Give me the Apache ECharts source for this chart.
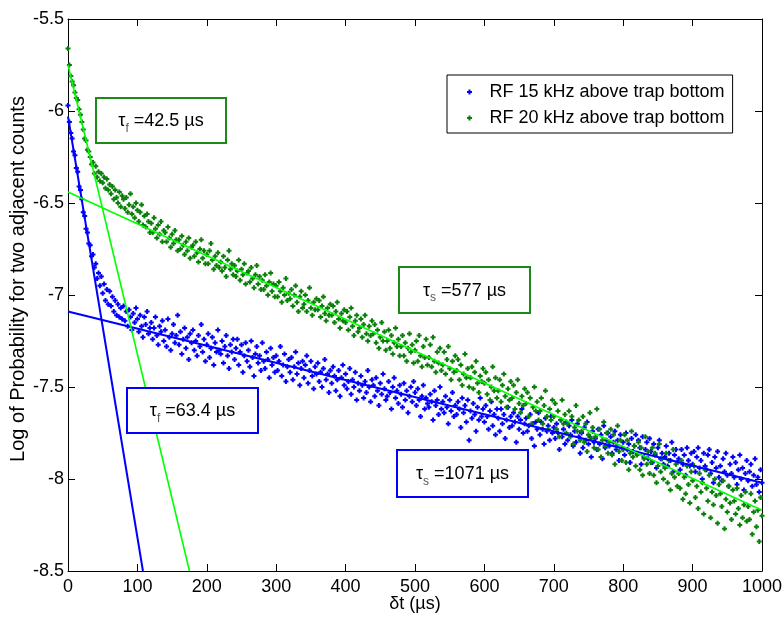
<!DOCTYPE html>
<html>
<head>
<meta charset="utf-8">
<script src="https://cdn.jsdelivr.net/npm/echarts@6/dist/echarts.min.js"></script>
<style>html,body{margin:0;padding:0;background:#fff;}#chart{width:783px;height:617px;}</style>
</head>
<body>
<div id="chart"></div>
<script>
// bin width of δt (µs); point i sits at t = i * binWidth
const binWidth = 2;
const xTicks = [0, 100, 200, 300, 400, 500, 600, 700, 800, 900, 1000];
const yTicks = [-8.5, -8, -7.5, -7, -6.5, -6, -5.5];
const seriesNames = ['RF 15 kHz above trap bottom', 'RF 20 kHz above trap bottom'];

// log probability, RF 15 kHz (blue), one value per 2 µs bin from 0 to 1000 µs
const blueY = [
-5.97,-6.06,-6.12,-6.15,-6.22,-6.24,-6.31,-6.33,-6.41,-6.43,
-6.48,-6.55,-6.57,-6.64,-6.66,-6.72,-6.73,-6.79,-6.78,-6.85,
-6.83,-6.91,-6.88,-6.95,-6.90,-6.99,-6.94,-7.03,-6.97,-7.05,
-6.98,-7.06,-7.01,-7.09,-7.03,-7.11,-7.05,-7.12,-7.07,-7.13,
-7.06,-7.14,-7.09,-7.17,-7.08,-7.12,-7.19,-7.10,-7.15,-7.07,
-7.13,-7.20,-7.11,-7.17,-7.23,-7.12,-7.16,-7.09,-7.21,-7.18,
-7.15,-7.24,-7.18,-7.12,-7.22,-7.27,-7.17,-7.20,-7.14,-7.25,
-7.19,-7.28,-7.13,-7.23,-7.30,-7.21,-7.16,-7.26,-7.22,-7.11,
-7.27,-7.20,-7.32,-7.24,-7.18,-7.29,-7.23,-7.35,-7.21,-7.26,
-7.19,-7.30,-7.25,-7.33,-7.22,-7.28,-7.16,-7.31,-7.24,-7.36,
-7.27,-7.21,-7.34,-7.29,-7.23,-7.38,-7.26,-7.31,-7.19,-7.30,
-7.32,-7.25,-7.37,-7.28,-7.22,-7.33,-7.40,-7.27,-7.31,-7.24,
-7.35,-7.29,-7.24,-7.38,-7.31,-7.27,-7.42,-7.33,-7.26,-7.36,
-7.30,-7.39,-7.25,-7.34,-7.44,-7.32,-7.28,-7.37,-7.33,-7.41,
-7.26,-7.36,-7.40,-7.31,-7.35,-7.45,-7.29,-7.38,-7.34,-7.42,
-7.33,-7.41,-7.36,-7.28,-7.44,-7.38,-7.32,-7.47,-7.39,-7.35,
-7.42,-7.34,-7.46,-7.39,-7.31,-7.43,-7.37,-7.49,-7.40,-7.36,
-7.45,-7.38,-7.33,-7.48,-7.41,-7.36,-7.44,-7.51,-7.39,-7.43,
-7.37,-7.47,-7.42,-7.50,-7.40,-7.35,-7.46,-7.43,-7.53,-7.41,
-7.48,-7.39,-7.44,-7.52,-7.46,-7.41,-7.55,-7.45,-7.38,-7.49,
-7.43,-7.51,-7.47,-7.40,-7.54,-7.46,-7.50,-7.42,-7.57,-7.48,
-7.52,-7.44,-7.49,-7.56,-7.47,-7.53,-7.41,-7.50,-7.58,-7.46,
-7.49,-7.55,-7.45,-7.52,-7.60,-7.48,-7.54,-7.43,-7.51,-7.57,
-7.55,-7.47,-7.53,-7.62,-7.50,-7.45,-7.56,-7.52,-7.59,-7.49,
-7.54,-7.61,-7.48,-7.57,-7.52,-7.64,-7.55,-7.50,-7.58,-7.47,
-7.53,-7.60,-7.51,-7.57,-7.66,-7.55,-7.49,-7.62,-7.56,-7.59,
-7.61,-7.54,-7.58,-7.68,-7.52,-7.60,-7.57,-7.65,-7.50,-7.62,
-7.58,-7.64,-7.55,-7.61,-7.70,-7.57,-7.63,-7.53,-7.66,-7.60,
-7.65,-7.58,-7.62,-7.72,-7.56,-7.64,-7.60,-7.69,-7.57,-7.79,
-7.63,-7.67,-7.59,-7.65,-7.74,-7.61,-7.68,-7.56,-7.66,-7.62,
-7.69,-7.60,-7.66,-7.73,-7.63,-7.58,-7.71,-7.65,-7.76,-7.62,
-7.67,-7.74,-7.62,-7.70,-7.65,-7.78,-7.68,-7.61,-7.72,-7.66,
-7.71,-7.64,-7.69,-7.80,-7.66,-7.73,-7.68,-7.62,-7.75,-7.70,
-7.67,-7.74,-7.71,-7.65,-7.78,-7.70,-7.82,-7.69,-7.73,-7.64,
-7.76,-7.69,-7.73,-7.81,-7.67,-7.74,-7.71,-7.79,-7.66,-7.75,
-7.72,-7.78,-7.70,-7.75,-7.84,-7.68,-7.77,-7.73,-7.81,-7.69,
-7.79,-7.71,-7.76,-7.68,-7.82,-7.74,-7.80,-7.70,-7.77,-7.86,
-7.75,-7.83,-7.72,-7.79,-7.69,-7.81,-7.77,-7.88,-7.74,-7.80,
-7.78,-7.84,-7.73,-7.81,-7.76,-7.89,-7.71,-7.83,-7.79,-7.75,
-7.82,-7.77,-7.86,-7.80,-7.74,-7.84,-7.79,-7.90,-7.76,-7.83,
-7.80,-7.87,-7.75,-7.84,-7.81,-7.91,-7.78,-7.85,-7.82,-7.76,
-7.86,-7.79,-7.83,-7.92,-7.77,-7.88,-7.84,-7.80,-7.89,-7.78,
-7.85,-7.91,-7.81,-7.87,-7.94,-7.83,-7.79,-7.89,-7.86,-7.92,
-7.88,-7.82,-7.93,-7.86,-7.90,-7.80,-7.96,-7.87,-7.84,-7.91,
-7.89,-7.95,-7.84,-7.92,-7.87,-7.98,-7.83,-7.90,-7.93,-7.86,
-7.92,-7.85,-7.96,-7.88,-7.83,-7.94,-7.90,-8.00,-7.86,-7.93,
-7.95,-7.87,-7.84,-7.97,-7.91,-8.02,-7.88,-7.94,-7.85,-7.99,
-7.93,-8.01,-7.89,-7.96,-7.86,-7.98,-8.04,-7.92,-7.97,-7.88,
-7.99,-7.91,-8.03,-7.95,-7.87,-8.00,-7.94,-8.06,-7.97,-7.90,
-8.01,-7.96,-7.92,-8.04,-7.98,-7.89,-8.03,-7.99,-8.07,-7.95,
-8.02
];

// log probability, RF 20 kHz (green), one value per 2 µs bin from 0 to 1000 µs
const greenY = [
-5.66,-5.75,-5.81,-5.84,-5.86,-5.90,-5.93,-5.94,-5.99,-6.02,
-6.06,-6.10,-6.15,-6.16,-6.21,-6.22,-6.25,-6.29,-6.28,-6.34,
-6.30,-6.36,-6.33,-6.38,-6.34,-6.39,-6.36,-6.42,-6.37,-6.43,
-6.40,-6.45,-6.41,-6.48,-6.43,-6.47,-6.50,-6.44,-6.52,-6.46,
-6.48,-6.53,-6.47,-6.55,-6.51,-6.45,-6.56,-6.52,-6.58,-6.50,
-6.54,-6.60,-6.55,-6.51,-6.62,-6.57,-6.63,-6.56,-6.60,-6.66,
-6.61,-6.66,-6.58,-6.64,-6.69,-6.62,-6.67,-6.60,-6.71,-6.65,
-6.66,-6.71,-6.63,-6.69,-6.74,-6.67,-6.72,-6.65,-6.70,-6.76,
-6.70,-6.75,-6.68,-6.73,-6.78,-6.71,-6.76,-6.69,-6.80,-6.74,
-6.73,-6.79,-6.71,-6.77,-6.82,-6.75,-6.70,-6.80,-6.76,-6.83,
-6.78,-6.83,-6.76,-6.72,-6.81,-6.86,-6.79,-6.84,-6.77,-6.85,
-6.82,-6.87,-6.79,-6.85,-6.90,-6.81,-6.76,-6.86,-6.83,-6.89,
-6.84,-6.90,-6.87,-6.81,-6.92,-6.86,-6.89,-6.83,-6.94,-6.88,
-6.87,-6.93,-6.85,-6.91,-6.96,-6.89,-6.84,-6.94,-6.90,-6.97,
-6.92,-6.97,-6.89,-6.95,-7.00,-6.93,-6.88,-6.98,-6.94,-7.01,
-6.95,-7.01,-6.93,-6.98,-7.04,-6.96,-7.00,-6.91,-7.03,-6.99,
-7.02,-6.97,-7.06,-7.00,-6.95,-7.04,-7.09,-7.01,-6.98,-7.07,
-7.05,-7.00,-7.09,-7.03,-6.96,-7.07,-7.11,-7.04,-7.08,-7.02,
-7.08,-7.03,-7.12,-7.06,-7.01,-7.10,-7.14,-7.07,-7.11,-7.05,
-7.11,-7.06,-7.15,-7.09,-7.04,-7.13,-7.18,-7.10,-7.14,-7.08,
-7.15,-7.09,-7.19,-7.12,-7.07,-7.17,-7.22,-7.14,-7.11,-7.20,
-7.18,-7.13,-7.23,-7.16,-7.11,-7.21,-7.25,-7.17,-7.22,-7.14,
-7.21,-7.16,-7.26,-7.19,-7.29,-7.23,-7.15,-7.25,-7.20,-7.30,
-7.25,-7.19,-7.29,-7.22,-7.32,-7.26,-7.18,-7.28,-7.24,-7.33,
-7.28,-7.22,-7.33,-7.26,-7.36,-7.29,-7.21,-7.31,-7.27,-7.37,
-7.30,-7.25,-7.36,-7.22,-7.33,-7.39,-7.28,-7.34,-7.24,-7.38,
-7.34,-7.27,-7.39,-7.23,-7.36,-7.42,-7.31,-7.37,-7.29,-7.41,
-7.38,-7.31,-7.43,-7.35,-7.28,-7.40,-7.46,-7.36,-7.42,-7.33,
-7.41,-7.35,-7.46,-7.38,-7.49,-7.43,-7.32,-7.45,-7.40,-7.50,
-7.45,-7.39,-7.51,-7.42,-7.36,-7.48,-7.53,-7.44,-7.47,-7.40,
-7.48,-7.42,-7.54,-7.46,-7.57,-7.50,-7.39,-7.52,-7.45,-7.56,
-7.52,-7.46,-7.58,-7.49,-7.43,-7.55,-7.61,-7.51,-7.57,-7.47,
-7.56,-7.49,-7.62,-7.53,-7.46,-7.59,-7.64,-7.55,-7.60,-7.51,
-7.59,-7.53,-7.66,-7.56,-7.70,-7.61,-7.50,-7.63,-7.58,-7.68,
-7.63,-7.56,-7.70,-7.60,-7.52,-7.66,-7.73,-7.62,-7.68,-7.57,
-7.66,-7.59,-7.73,-7.63,-7.77,-7.68,-7.57,-7.70,-7.65,-7.75,
-7.70,-7.63,-7.77,-7.66,-7.81,-7.72,-7.60,-7.74,-7.68,-7.79,
-7.74,-7.66,-7.80,-7.70,-7.85,-7.76,-7.64,-7.78,-7.72,-7.83,
-7.77,-7.62,-7.84,-7.73,-7.88,-7.79,-7.69,-7.82,-7.75,-7.86,
-7.80,-7.73,-7.87,-7.76,-7.92,-7.82,-7.71,-7.85,-7.79,-7.90,
-7.84,-7.76,-7.91,-7.79,-7.95,-7.86,-7.74,-7.88,-7.82,-7.93,
-7.87,-7.80,-7.95,-7.83,-7.98,-7.89,-7.77,-7.92,-7.85,-7.97,
-7.91,-7.83,-7.98,-7.86,-8.02,-7.93,-7.81,-7.96,-7.89,-8.00,
-7.94,-7.86,-8.02,-7.90,-8.06,-7.97,-7.84,-7.99,-7.92,-8.04,
-7.97,-8.05,-7.90,-8.11,-7.99,-8.08,-7.93,-8.03,-8.13,-7.96,
-8.01,-7.93,-8.10,-8.04,-8.16,-7.97,-8.07,-8.02,-8.19,-7.95,
-8.05,-8.12,-7.98,-8.21,-8.07,-8.14,-8.00,-8.09,-8.24,-8.03,
-8.08,-8.15,-8.01,-8.27,-8.11,-8.18,-8.04,-8.13,-8.22,-8.06,
-8.12,-8.19,-8.05,-8.16,-8.25,-8.09,-8.21,-8.14,-8.07,-8.23,
-8.15,-8.22,-8.08,-8.30,-8.18,-8.12,-8.26,-8.17,-8.34,-8.10,
-8.20
];

// fitted straight lines (endpoints in data units: [δt, log P])
const blueFastFit = [[0, -6.03], [108, -8.5]];
const blueSlowFit = [[0, -7.09], [1000, -8.02]];
const greenFastFit = [[0, -5.75], [175, -8.5]];
const greenSlowFit = [[0, -6.44], [1000, -8.17]];

// annotation labels
const labels = [
  {sub: 'f', text: ' =42.5 µs', color: '#1a8a1a'},
  {sub: 's', text: ' =577 µs', color: '#1a8a1a'},
  {sub: 'f', text: ' =63.4 µs', color: '#0000ff'},
  {sub: 's', text: ' =1071 µs', color: '#0000ff'}
];
</script>
<script>
const FONT = '"Liberation Sans", Arial, Helvetica, sans-serif';
const plus = 'path://M1.5,0H3.5V1.5H5V3.5H3.5V5H1.5V3.5H0V1.5H1.5Z';
const toPts = ys => ys.map((y, i) => [i * binWidth, y]);

const chart = echarts.init(document.getElementById('chart'), null, {renderer: 'canvas'});

const boxPos = [
  {x: 96, y: 98, w: 130, h: 45},
  {x: 399, y: 267, w: 131, h: 46},
  {x: 127, y: 388, w: 131, h: 45},
  {x: 397, y: 450, w: 131, h: 47}
];
const graphics = [];
labels.forEach((l, i) => {
  const b = boxPos[i];
  graphics.push({
    type: 'rect', z: 100,
    shape: {x: b.x, y: b.y, width: b.w, height: b.h},
    style: {fill: '#fff', stroke: l.color, lineWidth: 2}
  });
  graphics.push({
    type: 'text', z: 101,
    x: b.x + b.w / 2, y: b.y + b.h / 2 + 1,
    style: {
      text: '{a|τ}{b|' + l.sub + '}{a|' + l.text + '}',
      align: 'center', verticalAlign: 'middle',
      rich: {
        a: {fontSize: 18, fontFamily: FONT, fill: '#000', lineHeight: 20},
        b: {fontSize: 12, fontFamily: FONT, fill: '#555', lineHeight: 12, padding: [14, 0, 0, 0]}
      }
    }
  });
});

const axisCommon = {
  type: 'value',
  axisLine: {show: true, onZero: false, lineStyle: {color: '#000', width: 1}},
  splitLine: {show: false},
};

const option = {
  animation: false,
  backgroundColor: '#fff',
  grid: {left: 68, right: 21, top: 19, bottom: 46, containLabel: false, outerBoundsMode: 'none'},
  legend: {
    data: seriesNames,
    left: 447, top: 75,
    orient: 'vertical',
    backgroundColor: '#fff',
    borderColor: '#000', borderWidth: 1,
    padding: [7, 8, 5, 20],
    itemGap: 6,
    itemWidth: 30, itemHeight: 5,
    textStyle: {fontSize: 18, fontFamily: FONT, color: '#000', lineHeight: 20},
    z: 50
  },
  xAxis: [
    Object.assign({}, axisCommon, {
      min: xTicks[0], max: xTicks[xTicks.length - 1], interval: 100,
      position: 'bottom',
      name: 'δt (µs)', nameLocation: 'middle', nameGap: 24, nameMoveOverlap: false,
      nameTextStyle: {fontSize: 18, fontFamily: FONT, color: '#000'},
      axisTick: {show: true, inside: true, length: 7, lineStyle: {color: '#000'}},
      axisLabel: {fontSize: 18, fontFamily: FONT, color: '#000', margin: 7,
                  formatter: v => String(v)}
    }),
    Object.assign({}, axisCommon, {
      min: xTicks[0], max: xTicks[xTicks.length - 1], interval: 100,
      position: 'top',
      axisTick: {show: true, inside: true, length: 7, lineStyle: {color: '#000'}},
      axisLabel: {show: false}
    })
  ],
  yAxis: [
    Object.assign({}, axisCommon, {
      min: yTicks[0], max: yTicks[yTicks.length - 1], interval: 0.5,
      position: 'left',
      name: 'Log of Probability for two adjacent counts', nameLocation: 'middle',
      nameGap: 40, nameMoveOverlap: false,
      nameTextStyle: {fontSize: 20, fontFamily: FONT, color: '#000', padding: [0, 0, 0, 32]},
      axisTick: {show: true, inside: true, length: 7, lineStyle: {color: '#000'}},
      axisLabel: {fontSize: 18, fontFamily: FONT, color: '#000', margin: 4,
                  formatter: v => String(v)}
    }),
    Object.assign({}, axisCommon, {
      min: yTicks[0], max: yTicks[yTicks.length - 1], interval: 0.5,
      position: 'right',
      axisTick: {show: true, inside: true, length: 7, lineStyle: {color: '#000'}},
      axisLabel: {show: false}
    })
  ],
  series: [
    {
      name: seriesNames[0], type: 'scatter', data: toPts(blueY),
      symbol: plus, symbolSize: 5,
      itemStyle: {color: '#0000ff', opacity: 1}, z: 2
    },
    {
      name: seriesNames[1], type: 'scatter', data: toPts(greenY),
      symbol: plus, symbolSize: 5,
      itemStyle: {color: '#0a7f0a', opacity: 1}, z: 3
    },
    {type: 'line', data: blueFastFit, showSymbol: false, symbol: 'none', clip: true,
     lineStyle: {color: '#0000ff', width: 2}, z: 5},
    {type: 'line', data: blueSlowFit, showSymbol: false, symbol: 'none', clip: true,
     lineStyle: {color: '#0000ff', width: 2}, z: 5},
    {type: 'line', data: greenFastFit, showSymbol: false, symbol: 'none', clip: true,
     lineStyle: {color: '#00ff00', width: 1.6}, z: 6},
    {type: 'line', data: greenSlowFit, showSymbol: false, symbol: 'none', clip: true,
     lineStyle: {color: '#00ff00', width: 1.6}, z: 6}
  ],
  graphic: graphics
};
chart.setOption(option);
</script>
</body>
</html>
